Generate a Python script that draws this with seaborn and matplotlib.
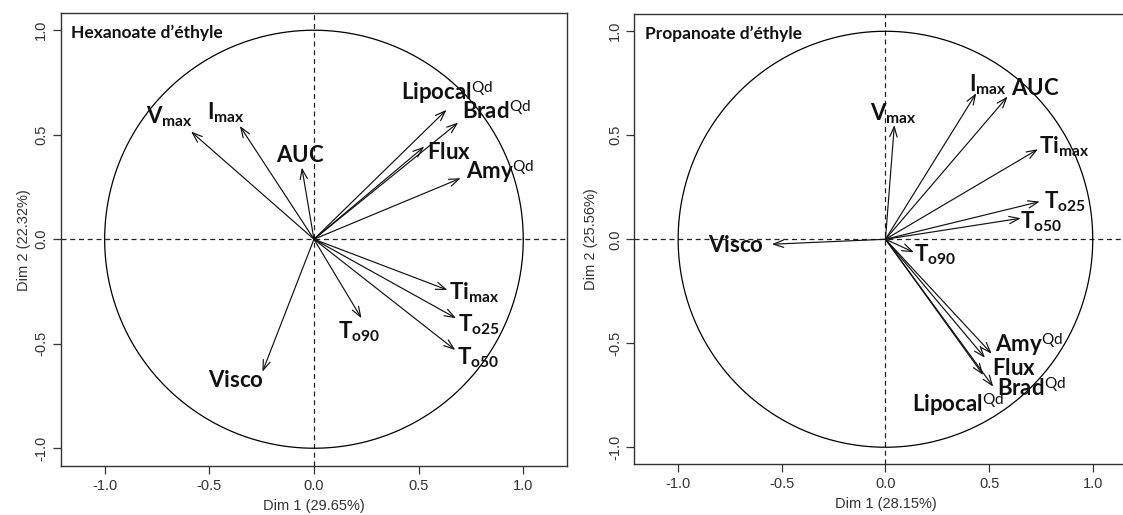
import numpy as np
import matplotlib
matplotlib.use("Agg")
import matplotlib.pyplot as plt
import seaborn as sns

# Variables projected on the first two PCA dimensions
variables_hex = ["Vmax", "Imax", "AUC", "Lipocal", "Brad", "Flux", "Amy",
                 "Timax", "To25", "To50", "To90", "Visco"]
dim1_hex = [-0.587, -0.354, -0.058, 0.633, 0.689, 0.527, 0.701,
            0.638, 0.679, 0.675, 0.227, -0.246]
dim2_hex = [0.515, 0.542, 0.343, 0.619, 0.558, 0.443, 0.292,
            -0.243, -0.378, -0.530, -0.378, -0.634]

variables_pro = ["Vmax", "Imax", "AUC", "Timax", "To25", "To50", "Visco",
                 "To90", "Amy", "Flux", "Lipocal", "Brad"]
dim1_pro = [0.043, 0.438, 0.589, 0.736, 0.744, 0.653, -0.548,
            0.137, 0.512, 0.480, 0.472, 0.520]
dim2_pro = [0.549, 0.702, 0.686, 0.433, 0.181, 0.101, -0.024,
            -0.0625, -0.550, -0.570, -0.653, -0.709]

titles = ["Hexanoate d\u2019éthyle", "Propanoate d\u2019éthyle"]
xlabels = ["Dim 1 (29.65%)", "Dim 1 (28.15%)"]
ylabels = ["Dim 2 (22.32%)", "Dim 2 (25.56%)"]
ticks = [-1.0, -0.5, 0.0, 0.5, 1.0]
tick_labels = ["-1.0", "-0.5", "0.0", "0.5", "1.0"]

# Rendered variable names (subscripts / superscripts)
pretty = {
    "Vmax": r"$\mathbf{V}_{\mathbf{max}}$",
    "Imax": r"$\mathbf{I}_{\mathbf{max}}$",
    "AUC": r"$\mathbf{AUC}$",
    "Lipocal": r"$\mathbf{Lipocal}^{\mathrm{Qd}}$",
    "Brad": r"$\mathbf{Brad}^{\mathrm{Qd}}$",
    "Flux": r"$\mathbf{Flux}$",
    "Amy": r"$\mathbf{Amy}^{\mathrm{Qd}}$",
    "Timax": r"$\mathbf{Ti}_{\mathbf{max}}$",
    "To25": r"$\mathbf{T}_{\mathbf{o25}}$",
    "To50": r"$\mathbf{T}_{\mathbf{o50}}$",
    "To90": r"$\mathbf{T}_{\mathbf{o90}}$",
    "Visco": r"$\mathbf{Visco}$",
}

# Label placement (layout only)
label_pos_hex = {
    "Vmax": (-0.69, 0.585), "Imax": (-0.423, 0.604), "AUC": (-0.064, 0.394),
    "Lipocal": (0.635, 0.70), "Brad": (0.87, 0.604), "Flux": (0.645, 0.408),
    "Amy": (0.889, 0.322), "Timax": (0.763, -0.255), "To25": (0.79, -0.41),
    "To50": (0.783, -0.568), "To90": (0.217, -0.442), "Visco": (-0.374, -0.681),
}
label_pos_pro = {
    "Vmax": (0.036, 0.605), "Imax": (0.494, 0.742), "AUC": (0.722, 0.718),
    "Timax": (0.863, 0.445), "To25": (0.866, 0.181), "To50": (0.75, 0.085),
    "Visco": (-0.723, -0.035), "To90": (0.239, -0.075), "Amy": (0.692, -0.508),
    "Flux": (0.62, -0.625), "Brad": (0.707, -0.725), "Lipocal": (0.353, -0.797),
}

sns.set_theme(style="ticks")
plt.rcParams["font.family"] = ["Liberation Sans", "DejaVu Sans"]
plt.rcParams["mathtext.fontset"] = "custom"
plt.rcParams["mathtext.rm"] = "Lato"
plt.rcParams["mathtext.bf"] = "Lato:bold"
plt.rcParams["mathtext.it"] = "Lato:italic"

W, H = 1123, 515
fig = plt.figure(figsize=(W / 100, H / 100), dpi=100)
fig.patch.set_facecolor("white")

# axes rectangles in pixels: left, top, right, bottom
rects = [(60.7, 13.3, 567.0, 466.0), (634.4, 14.0, 1136.5, 464.3)]
limits = [((-1.21, 1.209), (-1.085, 1.081)), ((-1.211, 1.211), (-1.082, 1.083))]
ylabel_pads = [2.5, 7]

circ_t = np.linspace(0, 2 * np.pi, 400)

panels = [
    (variables_hex, dim1_hex, dim2_hex, label_pos_hex),
    (variables_pro, dim1_pro, dim2_pro, label_pos_pro),
]

for i, (names, d1, d2, lpos) in enumerate(panels):
    l, t, r, b = rects[i]
    ax = fig.add_axes([l / W, (H - b) / H, (r - l) / W, (b - t) / H])
    ax.set_facecolor("white")
    (x0, x1), (y0, y1) = limits[i]
    ax.set_xlim(x0, x1)
    ax.set_ylim(y0, y1)

    # unit correlation circle
    sns.lineplot(x=np.cos(circ_t), y=np.sin(circ_t), sort=False, estimator=None,
                 color="black", linewidth=0.9, ax=ax)

    ax.axhline(0, color="#222222", linestyle=(0, (4, 3)), linewidth=0.9, zorder=1)
    ax.axvline(0, color="#222222", linestyle=(0, (4, 3)), linewidth=0.9, zorder=1)

    for name, x, y in zip(names, d1, d2):
        ax.annotate("", xy=(x, y), xytext=(0, 0),
                    arrowprops=dict(arrowstyle="->,head_length=0.6,head_width=0.22",
                                    lw=0.85, color="#111111", shrinkA=0, shrinkB=0,
                                    mutation_scale=12))
        lx, ly = lpos[name]
        ax.text(lx, ly, pretty[name], ha="center", va="center", fontsize=16,
                color="#111111")

    ax.text(0.021, 0.956, titles[i], transform=ax.transAxes, ha="left", va="center",
            fontsize=12.5, fontweight="bold", family="Lato", color="#111111")

    ax.set_xticks(ticks)
    ax.set_xticklabels(tick_labels)
    ax.set_yticks(ticks)
    ax.set_yticklabels(tick_labels, rotation=90, va="center")
    ax.tick_params(axis="both", direction="out", length=5.5, width=0.9,
                   color="#333333", labelsize=10.5, labelcolor="#333333", pad=3.5)
    ax.set_xlabel(xlabels[i], fontsize=10.5, color="#333333", labelpad=4.5)
    ax.set_ylabel(ylabels[i], fontsize=10.5, color="#333333", labelpad=ylabel_pads[i])
    for s in ax.spines.values():
        s.set_visible(True)
        s.set_color("#333333")
        s.set_linewidth(1.0)
    ax.grid(False)

fig.savefig("out.png", dpi=100)
